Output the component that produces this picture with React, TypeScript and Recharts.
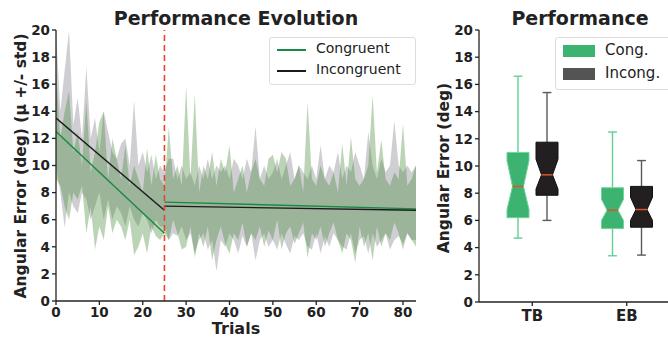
import React from "react";
import {
  ComposedChart,
  Area,
  Line,
  XAxis,
  YAxis,
  ReferenceLine,
  BarChart,
  Bar,
} from "recharts";

// left panel: mean +/- std band per trial (lower, upper)
const congLo = [
  9, 8.5, 7, 6, 8, 7.5, 8.5, 5, 7, 3.8, 5.5, 4.5, 7, 5, 6, 5.5, 4.5, 6, 3.4, 4, 5, 3.5, 5.5, 4.8, 4.5, 5,
  4.5, 6, 5, 3.8, 4, 5.5, 3.2, 5, 4, 5.5, 3, 4.5, 5.5, 4.2, 3.5, 5, 4.5, 5.8, 4, 5, 4.5, 5.5, 4, 5.2,
  4.5, 6, 3.8, 5, 5.5, 4.2, 5, 5.8, 3.2, 5, 4.5, 5.5, 4, 5, 5.8, 4.5, 3.5, 5, 4.5, 2.8, 5.5, 4, 5, 3,
  5.5, 4, 5, 4.5, 5.8, 5, 3.8, 5, 4.5, 4,
];
const congHi = [
  17, 12, 14, 15.5, 11, 12.5, 10, 14.8, 9.5, 11, 13.2, 14, 9, 12, 10.5, 9, 11.5, 8.5, 10, 9, 8, 11.3,
  8.5, 10.8, 9, 8.5, 12.8, 9, 10, 8.5, 15.9, 9, 15.3, 8, 10, 9, 11, 8.5, 10.5, 9.5, 11.5, 8, 9, 10, 8,
  9.5, 10.5, 9, 8.5, 10.5, 10.8, 9.5, 11, 10.5, 8.5, 9, 10, 8, 14.7, 9, 8.5, 10, 9, 8.5, 9.5, 8, 11.6,
  8.5, 12.1, 9, 8.5, 9, 10, 15.2, 9.5, 11.9, 9, 8.5, 9.5, 9, 13.1, 8.5, 9, 10,
];
const incongLo = [
  10, 8, 5.4, 8, 7, 6.5, 8, 7.5, 6, 7, 8, 6, 7.5, 6, 7, 6.5, 5.5, 7, 6, 5.5, 6.5, 6, 5, 6, 5.5, 5.5,
  4.5, 5, 4.8, 5.5, 4.5, 5, 3.5, 4.5, 5, 3.8, 4.5, 2.2, 4.5, 4, 5, 4.5, 3.5, 4.8, 4, 5, 3, 4.5, 5, 4,
  4.5, 3.8, 5, 4.2, 3.5, 4.8, 4.5, 5, 4, 3.8, 5, 3.5, 4.8, 4, 5, 4.5, 4, 3.8, 5, 3.5, 4.5, 4.8, 3.5, 5,
  4, 4.5, 5, 3.8, 4.5, 4.8, 4.2, 5, 4.5, 4.5,
];
const incongHi = [
  20, 14, 17, 20, 13, 15, 12, 17.3, 12, 13.5, 11, 14, 12.5, 11, 10.5, 11.6, 12, 10, 14.8, 10, 11, 9.5,
  10.8, 9, 10, 9.5, 10.5, 10.5, 9, 10, 9, 9.5, 8.5, 10, 9, 10.5, 9, 10, 9.5, 10, 9, 10.5, 10, 9, 10.5,
  9.5, 12.9, 9, 10, 9, 9.5, 10.5, 9, 10, 11, 9, 10, 9.5, 9, 10, 9, 11.5, 9, 10, 9.5, 11, 9, 10, 9.5, 11,
  10, 9, 12.5, 10, 9, 10.5, 9.5, 10, 13.3, 10, 9.5, 10, 9.5, 10,
];

// piecewise fits (trial, value): before and after the switch at trial 25
const congFitBefore = [ { trial: 0, v: 12.5 }, { trial: 25, v: 5.0 } ];
const congFitAfter = [ { trial: 25, v: 7.3 }, { trial: 83, v: 6.8 } ];
const incongFitBefore = [ { trial: 0, v: 13.5 }, { trial: 25, v: 6.7 } ];
const incongFitAfter = [ { trial: 25, v: 7.0 }, { trial: 83, v: 6.7 } ];
const switchTrial = 25;

const xTicks = [0, 10, 20, 30, 40, 50, 60, 70, 80];
const yTicks = [0, 2, 4, 6, 8, 10, 12, 14, 16, 18, 20];

// right panel: box plot stats per group
const groups = ["TB", "EB"];
const congStats = {
  lo: [4.7, 3.4],
  q1: [6.2, 5.4],
  notchLo: [6.8, 6.0],
  median: [8.5, 6.75],
  notchHi: [10.4, 7.55],
  q3: [11.0, 8.4],
  hi: [16.6, 12.5],
};
const incongStats = {
  lo: [6.0, 3.45],
  q1: [7.85, 5.5],
  notchLo: [8.3, 6.0],
  median: [9.35, 6.8],
  notchHi: [10.5, 7.7],
  q3: [11.75, 8.5],
  hi: [15.4, 10.4],
};

const bandData = congLo.map((lo, i) => ({
  trial: i,
  cong: [lo, congHi[i]],
  incong: [incongLo[i], incongHi[i]],
}));

const boxData = groups.map((g, i) => ({
  group: g,
  cong: [congStats.lo[i], congStats.hi[i]],
  incong: [incongStats.lo[i], incongStats.hi[i]],
}));

const FONT = "'DejaVu Sans', sans-serif";
const tickStyle = { fontFamily: FONT, fontSize: 13.5, fontWeight: 700, fill: "#222" };

function makeBox(stats: any, fill: string, edge: string, whisker: string) {
  return (props: any) => {
    const { x, y, width, height, payload } = props;
    const i = groups.indexOf(payload.group);
    const hiV = stats.hi[i];
    const loV = stats.lo[i];
    const top = Math.min(y, y + height);
    const bot = Math.max(y, y + height);
    const py = (v: number) => top + ((hiV - v) / (hiV - loV)) * (bot - top);
    const l = x;
    const r = x + width;
    const cx = x + width / 2;
    const q = width / 4;
    const cap = width * 0.2;
    const pts = [
      [l, py(stats.q3[i])],
      [r, py(stats.q3[i])],
      [r, py(stats.notchHi[i])],
      [cx + q, py(stats.median[i])],
      [r, py(stats.notchLo[i])],
      [r, py(stats.q1[i])],
      [l, py(stats.q1[i])],
      [l, py(stats.notchLo[i])],
      [cx - q, py(stats.median[i])],
      [l, py(stats.notchHi[i])],
    ]
      .map((p) => p.join(","))
      .join(" ");
    return (
      <g>
        <line x1={cx} x2={cx} y1={py(hiV)} y2={py(stats.q3[i])} stroke={whisker} strokeWidth={1.4} />
        <line x1={cx} x2={cx} y1={py(stats.q1[i])} y2={py(loV)} stroke={whisker} strokeWidth={1.4} />
        <line x1={cx - cap} x2={cx + cap} y1={py(hiV)} y2={py(hiV)} stroke={whisker} strokeWidth={1.4} />
        <line x1={cx - cap} x2={cx + cap} y1={py(loV)} y2={py(loV)} stroke={whisker} strokeWidth={1.4} />
        <polygon points={pts} fill={fill} stroke={edge} strokeWidth={1} />
        <line
          x1={cx - q}
          x2={cx + q}
          y1={py(stats.median[i])}
          y2={py(stats.median[i])}
          stroke="#e0522c"
          strokeWidth={1.5}
        />
      </g>
    );
  };
}

const boldText: React.CSSProperties = {
  position: "absolute",
  fontFamily: FONT,
  fontWeight: 700,
  color: "#222",
  whiteSpace: "nowrap",
  lineHeight: 1,
};

export default function App() {
  return (
    <div style={{ position: "absolute", left: 0, top: 0, width: 668, height: 340, background: "#fff", overflow: "hidden" }}>
      <div style={{ position: "absolute", left: 0, top: 0 }}>
        <ComposedChart width={430} height={340} data={bandData} margin={{ top: 30, right: 14, left: 0, bottom: 0 }}>
          <XAxis
            dataKey="trial"
            type="number"
            domain={[0, 83]}
            ticks={xTicks}
            height={39}
            allowDataOverflow
            tick={tickStyle}
            tickSize={4}
            tickMargin={2}
            stroke="#222"
            strokeWidth={1.3}
          />
          <YAxis
            type="number"
            domain={[0, 20]}
            ticks={yTicks}
            width={56}
            allowDataOverflow
            tick={tickStyle}
            tickSize={4}
            tickMargin={2}
            stroke="#222"
            strokeWidth={1.3}
          />
          <Area
            dataKey="incong"
            type="linear"
            stroke="none"
            fill="#80808c"
            fillOpacity={0.38}
            isAnimationActive={false}
          />
          <Area
            dataKey="cong"
            type="linear"
            stroke="none"
            fill="#3c8228"
            fillOpacity={0.34}
            isAnimationActive={false}
          />
          <Line data={congFitBefore} dataKey="v" stroke="#178a45" strokeWidth={1.4} dot={false} isAnimationActive={false} />
          <Line data={congFitAfter} dataKey="v" stroke="#178a45" strokeWidth={1.4} dot={false} isAnimationActive={false} />
          <Line data={incongFitBefore} dataKey="v" stroke="#1a1a1a" strokeWidth={1.4} dot={false} isAnimationActive={false} />
          <Line data={incongFitAfter} dataKey="v" stroke="#1a1a1a" strokeWidth={1.4} dot={false} isAnimationActive={false} />
          <ReferenceLine x={switchTrial} stroke="#e8452c" strokeWidth={1.6} strokeDasharray="6 4" />
        </ComposedChart>
      </div>

      <div style={{ position: "absolute", left: 420, top: 0 }}>
        <BarChart
          width={254}
          height={340}
          data={boxData}
          margin={{ top: 30, right: 0, left: 0, bottom: 0 }}
          barSize={22}
          barGap={7}
        >
          <XAxis
            dataKey="group"
            height={38}
            padding={{ left: 6, right: 0 }}
            tick={{ ...tickStyle, fontSize: 15 }}
            tickSize={4}
            tickMargin={4}
            stroke="#222"
            strokeWidth={1.3}
          />
          <YAxis
            type="number"
            domain={[0, 20]}
            ticks={yTicks}
            width={59}
            allowDataOverflow
            tick={tickStyle}
            tickSize={4}
            tickMargin={2}
            stroke="#222"
            strokeWidth={1.3}
          />
          <Bar dataKey="cong" isAnimationActive={false} shape={makeBox(congStats, "#3cb371", "#6fd39c", "#62cf92")} />
          <Bar dataKey="incong" isAnimationActive={false} shape={makeBox(incongStats, "#231f20", "#111", "#5a5a5a")} />
        </BarChart>
      </div>

      {/* titles and axis labels */}
      <div style={{ ...boldText, left: 0, width: 472, top: 9, textAlign: "center", fontSize: 19 }}>Performance Evolution</div>
      <div style={{ ...boldText, left: 56, width: 360, top: 321, textAlign: "center", fontSize: 16 }}>Trials</div>
      <div
        style={{
          ...boldText,
          left: 22,
          top: 166,
          fontSize: 15.5,
          transform: "translate(-50%, -50%) rotate(-90deg)",
        }}
      >
        Angular Error (deg) (μ +/- std)
      </div>
      <div style={{ ...boldText, left: 480, width: 200, top: 9, textAlign: "center", fontSize: 19 }}>Performance</div>
      <div
        style={{
          ...boldText,
          left: 445,
          top: 168,
          fontSize: 15.5,
          transform: "translate(-50%, -50%) rotate(-90deg)",
        }}
      >
        Angular Error (deg)
      </div>

      {/* left legend */}
      <div
        style={{
          position: "absolute",
          left: 269,
          top: 37,
          width: 145,
          height: 46,
          border: "1px solid #ddd",
          borderRadius: 3,
          background: "rgba(255,255,255,0.85)",
          fontFamily: FONT,
          fontSize: 14,
          color: "#222",
        }}
      >
        <div style={{ position: "absolute", left: 7, top: 11, width: 29, height: 1.5, background: "#178a45" }} />
        <div style={{ position: "absolute", left: 46, top: 2 }}>Congruent</div>
        <div style={{ position: "absolute", left: 7, top: 32, width: 29, height: 1.5, background: "#1a1a1a" }} />
        <div style={{ position: "absolute", left: 46, top: 23 }}>Incongruent</div>
      </div>

      {/* right legend */}
      <div
        style={{
          position: "absolute",
          left: 555,
          top: 37,
          width: 120,
          height: 51,
          border: "1px solid #ddd",
          borderRadius: 3,
          background: "rgba(255,255,255,0.85)",
          fontFamily: FONT,
          fontSize: 15,
          color: "#222",
        }}
      >
        <div style={{ position: "absolute", left: 7, top: 7, width: 32, height: 12, background: "#3cb371" }} />
        <div style={{ position: "absolute", left: 49, top: 3 }}>Cong.</div>
        <div style={{ position: "absolute", left: 7, top: 30, width: 32, height: 12, background: "#545454" }} />
        <div style={{ position: "absolute", left: 49, top: 26 }}>Incong.</div>
      </div>
    </div>
  );
}
